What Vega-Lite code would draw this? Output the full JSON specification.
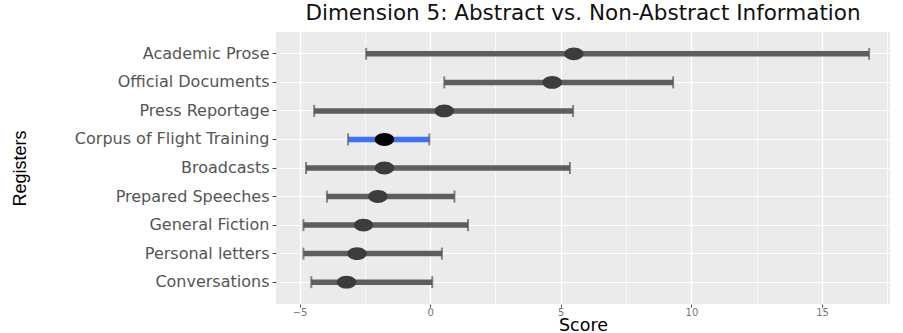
{
  "$schema": "https://vega.github.io/schema/vega-lite/v6.json",
  "autosize": "none",
  "width": 614,
  "height": 272,
  "padding": {"left": 276, "top": 32, "right": 13, "bottom": 29},
  "background": "white",
  "title": {
    "text": "Dimension 5: Abstract vs. Non-Abstract Information",
    "font": "DejaVu Sans",
    "fontSize": 21.5,
    "fontWeight": "normal",
    "color": "#111",
    "anchor": "middle",
    "frame": "group",
    "baseline": "alphabetic",
    "offset": -9
  },
  "config": {
    "view": {"fill": "#EBEBEB", "stroke": null}
  },
  "data": {
    "values": [
      {"register": "Academic Prose", "lo": -2.45, "hi": 16.8, "mean": 5.5, "group": "other"},
      {"register": "Official Documents", "lo": 0.54, "hi": 9.3, "mean": 4.67, "group": "other"},
      {"register": "Press Reportage", "lo": -4.44, "hi": 5.47, "mean": 0.54, "group": "other"},
      {"register": "Corpus of Flight Training", "lo": -3.14, "hi": -0.03, "mean": -1.75, "group": "corpus"},
      {"register": "Broadcasts", "lo": -4.75, "hi": 5.35, "mean": -1.75, "group": "other"},
      {"register": "Prepared Speeches", "lo": -3.95, "hi": 0.93, "mean": -2.0, "group": "other"},
      {"register": "General Fiction", "lo": -4.85, "hi": 1.45, "mean": -2.55, "group": "other"},
      {"register": "Personal letters\u00a0", "lo": -4.85, "hi": 0.45, "mean": -2.8, "group": "other"},
      {"register": "Conversations", "lo": -4.55, "hi": 0.08, "mean": -3.2, "group": "other"}
    ]
  },
  "encoding": {
    "y": {
      "field": "register",
      "type": "nominal",
      "sort": null,
      "scale": {"padding": 0.53},
      "axis": {
        "title": "Registers",
        "titleFont": "Liberation Sans",
        "titleFontSize": 18,
        "titleFontWeight": "normal",
        "titleColor": "#000",
        "titleAngle": -90,
        "titleX": -256,
        "titleY": 136,
        "titleAlign": "center",
        "titleBaseline": "middle",
        "labelFont": "DejaVu Sans",
        "labelFontSize": 16,
        "labelLimit": 300,
        "labelColor": "#555",
        "labelPadding": 3,
        "tickColor": "#444",
        "tickSize": 4,
        "domain": false,
        "grid": true,
        "gridColor": "white",
        "gridWidth": 1.1
      }
    }
  },
  "layer": [
    {
      "mark": {"type": "rule", "strokeWidth": 5.5},
      "encoding": {
        "x": {
          "field": "lo",
          "type": "quantitative",
          "scale": {"domain": [-5.9, 17.6], "nice": false, "zero": false},
          "axis": {
            "title": "Score",
            "titleFont": "DejaVu Sans",
            "titleFontSize": 17.5,
            "titleFontWeight": "normal",
            "titleColor": "#000",
            "titleY": 21.5,
            "titleBaseline": "middle",
            "values": [-5, -2.5, 0, 2.5, 5, 7.5, 10, 12.5, 15, 17.5],
            "labelExpr": "datum.value % 5 == 0 ? datum.label : ''",
            "labelFont": "DejaVu Sans",
            "labelFontSize": 10,
            "labelColor": "#777",
            "labelPadding": 0,
            "tickSize": 3,
            "tickColor": "#555",
            "tickOpacity": {"condition": {"test": "datum.value % 5 != 0", "value": 0}, "value": 1},
            "domain": false,
            "grid": true,
            "gridColor": "white",
            "gridWidth": {"condition": {"test": "datum.value % 5 != 0", "value": 0.7}, "value": 1.3}
          }
        },
        "x2": {"field": "hi"},
        "color": {
          "field": "group",
          "type": "nominal",
          "scale": {"domain": ["other", "corpus"], "range": ["#5e5e5e", "#3f72f2"]},
          "legend": null
        }
      }
    },
    {
      "mark": {"type": "tick", "thickness": 2, "size": 12, "color": "#555"},
      "encoding": {"x": {"field": "lo", "type": "quantitative"}}
    },
    {
      "mark": {"type": "tick", "thickness": 2, "size": 12, "color": "#555"},
      "encoding": {"x": {"field": "hi", "type": "quantitative"}}
    },
    {
      "mark": {
        "type": "point",
        "filled": true,
        "opacity": 1,
        "size": 380,
        "shape": "M -1 0 A 1 0.66 0 1 1 1 0 A 1 0.66 0 1 1 -1 0 Z"
      },
      "encoding": {
        "x": {"field": "mean", "type": "quantitative"},
        "color": {
          "field": "group",
          "type": "nominal",
          "scale": {"domain": ["other", "corpus"], "range": ["#3c3c3c", "#000000"]},
          "legend": null
        }
      }
    }
  ],
  "resolve": {"scale": {"color": "independent"}}
}
